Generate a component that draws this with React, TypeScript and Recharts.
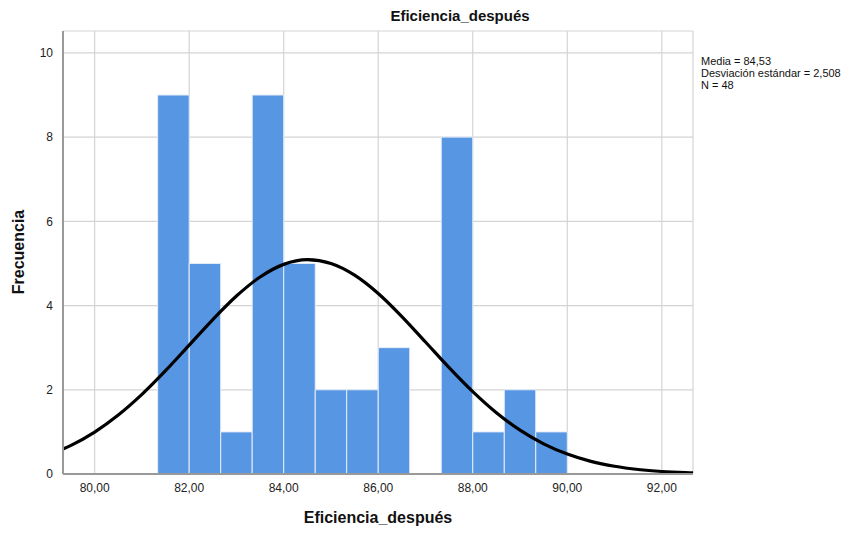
import React from "react";
import { ComposedChart, Line, XAxis, YAxis, CartesianGrid, ReferenceArea } from "recharts";

const binStarts = [81.333, 82.0, 82.667, 83.333, 84.0, 84.667, 85.333, 86.0, 86.667, 87.333, 88.0, 88.667, 89.333];
const binEnds = [82.0, 82.667, 83.333, 84.0, 84.667, 85.333, 86.0, 86.667, 87.333, 88.0, 88.667, 89.333, 90.0];
const binCounts = [9, 5, 1, 9, 5, 2, 2, 3, 0, 8, 1, 2, 1];

const curveX = [79.33, 79.5, 80, 80.5, 81, 81.5, 82, 82.5, 83, 83.5, 84, 84.5, 85, 85.5, 86, 86.5, 87, 87.5, 88, 88.5, 89, 89.5, 90, 90.5, 91, 91.5, 92, 92.5, 92.66];
const curveY = [0.594, 0.681, 0.996, 1.4, 1.89, 2.453, 3.06, 3.668, 4.226, 4.678, 4.978, 5.09, 5.001, 4.723, 4.287, 3.739, 3.134, 2.525, 1.955, 1.454, 1.04, 0.715, 0.472, 0.299, 0.183, 0.107, 0.06, 0.033, 0.027];

const xTicks = [80, 82, 84, 86, 88, 90, 92];
const yTicks = [0, 2, 4, 6, 8, 10];
const statsLines = ["Media = 84,53", "Desviación estándar = 2,508", "N = 48"];
const title = "Eficiencia_después";
const xLabel = "Eficiencia_después";
const yLabel = "Frecuencia";

const curveData = curveX.map((x, i) => ({ x, y: curveY[i] }));

const FONT = "'Liberation Sans', Arial, sans-serif";
const X_DOMAIN: [number, number] = [79.33, 92.66];

export default function App() {
  return (
    <div style={{ position: "absolute", left: 0, top: 0, width: 857, height: 534, background: "#fff", fontFamily: FONT }}>
      <ComposedChart
        width={857}
        height={534}
        data={curveData}
        margin={{ top: 31, right: 164, bottom: 30, left: 23 }}
      >
        <CartesianGrid stroke="#d4d4d4" strokeWidth={1.2} />
        <XAxis
          dataKey="x"
          type="number"
          domain={X_DOMAIN}
          allowDataOverflow
          ticks={xTicks}
          tickFormatter={(v: number) => v.toFixed(2).replace(".", ",")}
          tick={{ fill: "#222", fontSize: 12, fontFamily: FONT }}
          tickLine={false}
          axisLine={{ stroke: "#999", strokeWidth: 2 }}
          height={30}
          tickMargin={3}
        />
        <YAxis
          type="number"
          domain={[0, 10.52]}
          allowDataOverflow
          ticks={yTicks}
          tick={{ fill: "#222", fontSize: 12, fontFamily: FONT }}
          tickLine={false}
          axisLine={{ stroke: "#999", strokeWidth: 2 }}
          width={40}
          tickMargin={4}
        />
        {binCounts.map((c, i) =>
          c > 0 ? (
            <ReferenceArea
              key={i}
              x1={binStarts[i]}
              x2={binEnds[i]}
              y1={0}
              y2={c}
              fill="#5796E3"
              fillOpacity={1}
              stroke="#e6edf8"
              strokeWidth={1}
              ifOverflow="visible"
            />
          ) : null
        )}
        <Line
          dataKey="y"
          type="monotone"
          stroke="#000"
          strokeWidth={3.2}
          dot={false}
          activeDot={false}
          isAnimationActive={false}
        />
      </ComposedChart>
      <div style={{ position: "absolute", left: 0, width: 920, top: 7, textAlign: "center", fontSize: 15, fontWeight: "bold", color: "#111" }}>
        {title}
      </div>
      <div style={{ position: "absolute", left: 63, width: 630, top: 509, textAlign: "center", fontSize: 16, fontWeight: "bold", color: "#111" }}>
        {xLabel}
      </div>
      <div
        style={{
          position: "absolute",
          left: 19,
          top: 252,
          transform: "translate(-50%, -50%) rotate(-90deg)",
          fontSize: 16,
          fontWeight: "bold",
          color: "#111",
          whiteSpace: "nowrap",
        }}
      >
        {yLabel}
      </div>
      <div style={{ position: "absolute", left: 701, top: 55, fontSize: 11, lineHeight: "12px", color: "#111" }}>
        {statsLines.map((s) => (
          <div key={s}>{s}</div>
        ))}
      </div>
    </div>
  );
}
